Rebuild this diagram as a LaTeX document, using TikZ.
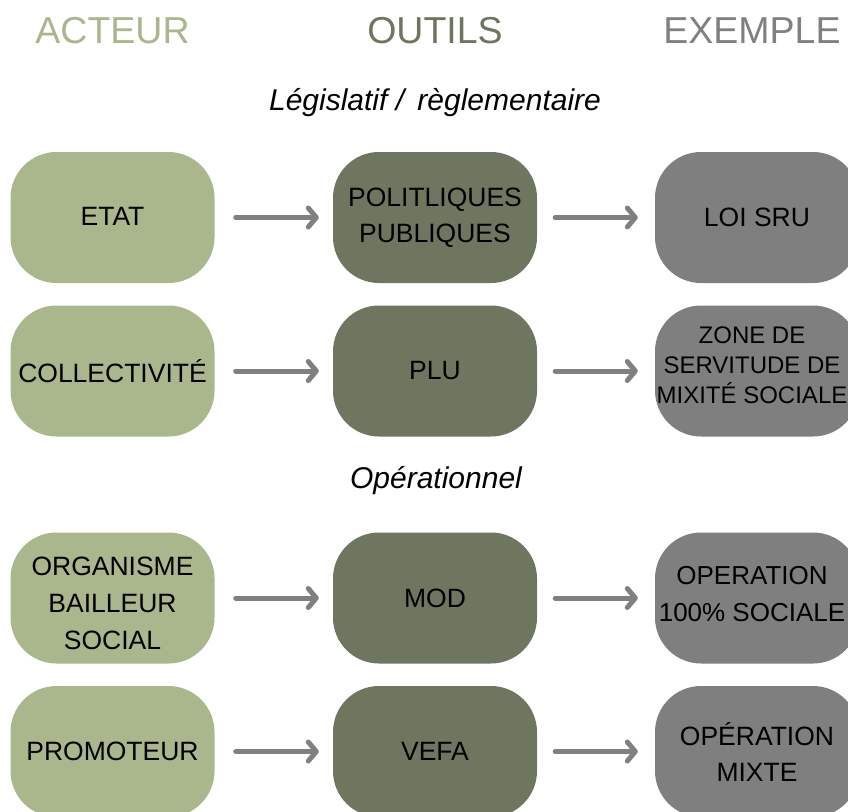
\documentclass[tikz,border=0pt]{standalone}
\usepackage{fontspec}
\setmainfont{Liberation Sans}
\usetikzlibrary{arrows.meta}
\definecolor{sage}{RGB}{170,182,139}
\definecolor{olive}{RGB}{110,118,95}
\definecolor{greyex}{RGB}{128,127,128}
\definecolor{arrgrey}{RGB}{128,128,128}
\tikzset{
  boxbase/.style={rounded corners=46pt, minimum width=204pt, minimum height=131pt,
    inner sep=0pt, align=center, text=black,
    font=\fontsize{26.5}{36}\selectfont},
  actbox/.style={boxbase, fill=sage},
  outbox/.style={boxbase, fill=olive},
  exbox/.style={boxbase, fill=greyex},
  boxtext/.style={inner sep=0pt, align=center, text=black},
  header/.style={anchor=base, inner sep=0pt, font=\fontsize{37.5}{40}\selectfont},
  subhead/.style={anchor=base, inner sep=0pt, font=\fontsize{30}{34}\selectfont\itshape},
  flow/.style={draw=arrgrey, line width=5pt, line cap=round,
    -{Straight Barb[length=8pt,width=19pt,round]}}
}
\begin{document}
\begin{tikzpicture}[x=1pt,y=-1pt]
\clip (0,0) rectangle (848,811);
\fill[white] (0,0) rectangle (848,811);

% headers
\node[header, text=sage] (hA) at (112.5,43) {ACTEUR};
\node[header, text=olive] (hO) at (435,43) {OUTILS};
\node[header, text=arrgrey] (hE) at (752,43) {EXEMPLE};

% sub headings
\node[subhead] (s1) at (435,110) {Législatif /\hspace{5pt} règlementaire};
\node[subhead] (s2) at (436,488) {Opérationnel};

% row 1
\node[actbox] (a1) at (112.5,217.5) {\raisebox{3pt}{ETAT}};
\node[outbox] (o1) at (435,217.5) {POLITLIQUES\\PUBLIQUES};
\node[exbox]  (e1) at (757,217.5) {LOI SRU};

% row 2
\node[actbox] (a2) at (112.5,371) {COLLECTIVITÉ};
\node[outbox] (o2) at (435,371) {\raisebox{2pt}{PLU}};
\node[exbox]  (e2) at (757,371) {};
\node[boxtext, font=\fontsize{24}{30}\selectfont] (e2t) at (752,365)
  {ZONE DE\\SERVITUDE DE\\MIXITÉ SOCIALE};

% row 3
\node[actbox] (a3) at (112.5,598) {};
\node[boxtext, font=\fontsize{26.5}{37}\selectfont] (a3t) at (112.5,603)
  {ORGANISME\\BAILLEUR\\SOCIAL};
\node[outbox] (o3) at (435,598) {MOD};
\node[exbox]  (e3) at (757,598) {};
\node[boxtext, font=\fontsize{26}{37}\selectfont] (e3t) at (752,594)
  {OPERATION\\100\% SOCIALE};

% row 4
\node[actbox] (a4) at (112.5,751.5) {PROMOTEUR};
\node[outbox] (o4) at (435,751.5) {\raisebox{-3pt}{VEFA}};
\node[exbox]  (e4) at (757,751.5) {OPÉRATION\\MIXTE};

% arrows
\foreach \r in {1,2,3,4}{
  \draw[flow, shorten <=21pt, shorten >=14pt] (a\r.east) -- (o\r.west);
  \draw[flow, shorten <=18pt, shorten >=17pt] (o\r.east) -- (e\r.west);
}
\end{tikzpicture}
\end{document}
